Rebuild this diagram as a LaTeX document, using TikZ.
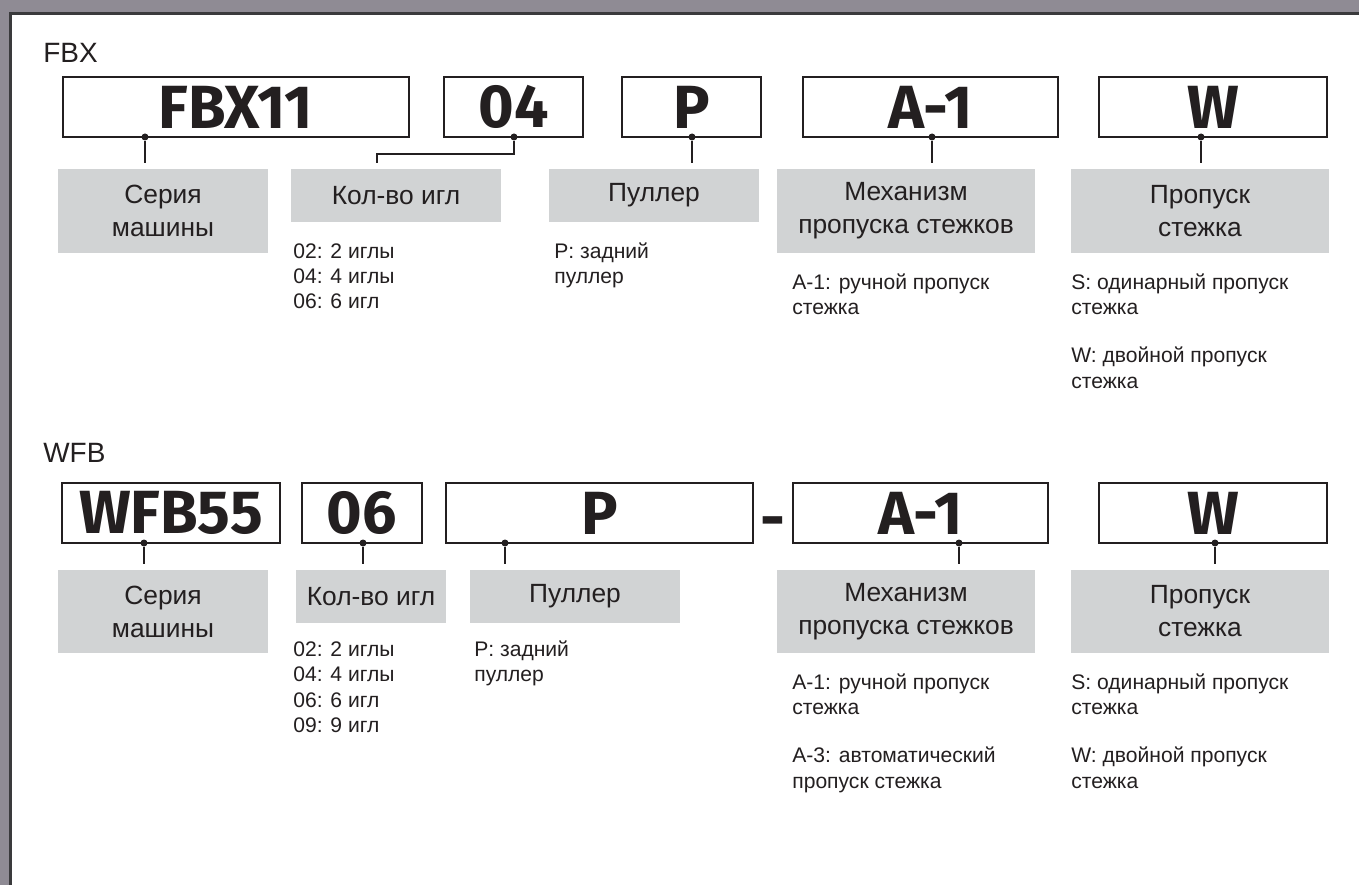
\documentclass[tikz,border=0pt]{standalone}
\usepackage{fontspec}
\setmainfont{Liberation Sans}
\newfontfamily\codefont{Fira Sans}
\usepackage{tikz}
\usepackage{xcolor}
\definecolor{Frame}{HTML}{8F8B94}
\definecolor{Edge}{HTML}{3A3A3C}
\definecolor{Tag}{HTML}{D1D3D4}
\definecolor{Ink}{HTML}{231F20}

\begin{document}
\begin{tikzpicture}[x=0.2mm,y=-0.2mm,
  codebox/.style={draw=Ink,line width=0.5mm,minimum height=12mm,inner sep=0pt,text=Ink,font=\codefont\bfseries\fontsize{34.7}{40}\selectfont},
  codetext/.style={inner sep=0pt,text=Ink,font=\codefont\bfseries\fontsize{34.7}{40}\selectfont},
  tag/.style={fill=Tag,inner sep=0pt,align=center,text=Ink,font=\fontsize{15}{18.8}\selectfont},
  note/.style={anchor=base west,align=left,inner sep=0pt,text=Ink,font=\fontsize{12}{14.5}\selectfont},
  head/.style={anchor=base west,inner sep=0pt,text=Ink,font=\fontsize{15.9}{19}\selectfont},
  dot/.style={circle,fill=Ink,inner sep=0pt,minimum size=1.4mm},
  lead/.style={draw=Ink,line width=0.3mm,shorten >=1.1mm}
]
\useasboundingbox (0,0) rectangle (1359,885);
\fill[Frame] (0,0) rectangle (1359,885);
\fill[white] (10.5,13.5) rectangle (1359,885);
\draw[Edge,line width=0.6mm] (10.5,885) |- (1359,13.5);

\node[head] (fbxhead) at (43,63) {FBX};
\node[codebox,minimum width=69.2mm] (fbxser) at (236,107) {FBX11};
\node[codebox,minimum width=27.8mm] (fbxneed) at (513.5,107) {04};
\node[codebox,minimum width=27.8mm] (fbxpull) at (691.5,107) {P};
\node[codebox,minimum width=51mm] (fbxmech) at (930.5,107) {A-1};
\node[codebox,minimum width=45.6mm] (fbxskip) at (1213,107) {W};

\node[tag,minimum width=42mm,minimum height=16.8mm] (fbxcat1) at (163,211) {Серия\\машины};
\node[tag,minimum width=42mm,minimum height=10.6mm] (fbxcat2) at (396,195.5) {Кол-во игл};
\node[tag,minimum width=42mm,minimum height=10.6mm] (fbxcat3) at (654,195.5) {Пуллер};
\node[tag,minimum width=51.6mm,minimum height=16.8mm] (fbxcat4) at (906,211) {Механизм\\пропуска стежков};
\node[tag,minimum width=51.6mm,minimum height=16.8mm] (fbxcat5) at (1200,211) {Пропуск\\стежка};

\node[dot] (fbxd1) at (145,137) {};
\node[dot] (fbxd2) at (514,137) {};
\node[dot] (fbxd3) at (692,137) {};
\node[dot] (fbxd4) at (932,137) {};
\node[dot] (fbxd5) at (1201,137) {};
\coordinate (fbxbend) at (377,154);
\draw[lead] (fbxd1) -- (fbxd1 |- fbxcat1.north);
\draw[lead] (fbxd2) |- (fbxbend) -- (fbxbend |- fbxcat2.north);
\draw[lead] (fbxd3) -- (fbxd3 |- fbxcat3.north);
\draw[lead] (fbxd4) -- (fbxd4 |- fbxcat4.north);
\draw[lead] (fbxd5) -- (fbxd5 |- fbxcat5.north);

\node[note] (fbxlist2) at (293,309) {02: 2 иглы\\04: 4 иглы\\06: 6 игл};
\node[note] (fbxlist3) at (554,283.5) {P: задний\\пуллер};
\node[note] (fbxlist4) at (792,314.5) {A-1: ручной пропуск\\стежка};
\node[note] (fbxlist5) at (1071,388) {S: одинарный пропуск\\стежка\\[12.8pt]W: двойной пропуск\\стежка};

\node[head] (wfbhead) at (43,462) {WFB};
\node[codebox,minimum width=43.6mm] (wfbser) at (171,513) {WFB55};
\node[codebox,minimum width=24mm] (wfbneed) at (362,513) {06};
\node[codebox,minimum width=61.4mm] (wfbpull) at (599.5,513) {P};
\node[codetext,anchor=base] (wfbdash) at (772.5,539) {-};
\node[codebox,minimum width=51mm] (wfbmech) at (920.5,513) {A-1};
\node[codebox,minimum width=45.6mm] (wfbskip) at (1213,513) {W};

\node[tag,minimum width=42mm,minimum height=16.6mm] (wfbcat1) at (163,611.5) {Серия\\машины};
\node[tag,minimum width=30mm,minimum height=10.6mm] (wfbcat2) at (371,596.5) {Кол-во игл};
\node[tag,minimum width=42mm,minimum height=10.6mm] (wfbcat3) at (575,596.5) {Пуллер};
\node[tag,minimum width=51.6mm,minimum height=16.6mm] (wfbcat4) at (906,611.5) {Механизм\\пропуска стежков};
\node[tag,minimum width=51.6mm,minimum height=16.6mm] (wfbcat5) at (1200,611.5) {Пропуск\\стежка};

\node[dot] (wfbd1) at (144,543) {};
\node[dot] (wfbd2) at (363,543) {};
\node[dot] (wfbd3) at (505,543) {};
\node[dot] (wfbd4) at (959,543) {};
\node[dot] (wfbd5) at (1215,543) {};
\draw[lead] (wfbd1) -- (wfbd1 |- wfbcat1.north);
\draw[lead] (wfbd2) -- (wfbd2 |- wfbcat2.north);
\draw[lead] (wfbd3) -- (wfbd3 |- wfbcat3.north);
\draw[lead] (wfbd4) -- (wfbd4 |- wfbcat4.north);
\draw[lead] (wfbd5) -- (wfbd5 |- wfbcat5.north);

\node[note] (wfblist2) at (293,732.5) {02: 2 иглы\\04: 4 иглы\\06: 6 игл\\09: 9 игл};
\node[note] (wfblist3) at (474,681.5) {P: задний\\пуллер};
\node[note] (wfblist4) at (792,788) {A-1: ручной пропуск\\стежка\\[12.8pt]A-3: автоматический\\пропуск стежка};
\node[note] (wfblist5) at (1071,788) {S: одинарный пропуск\\стежка\\[12.8pt]W: двойной пропуск\\стежка};
\end{tikzpicture}
\end{document}
